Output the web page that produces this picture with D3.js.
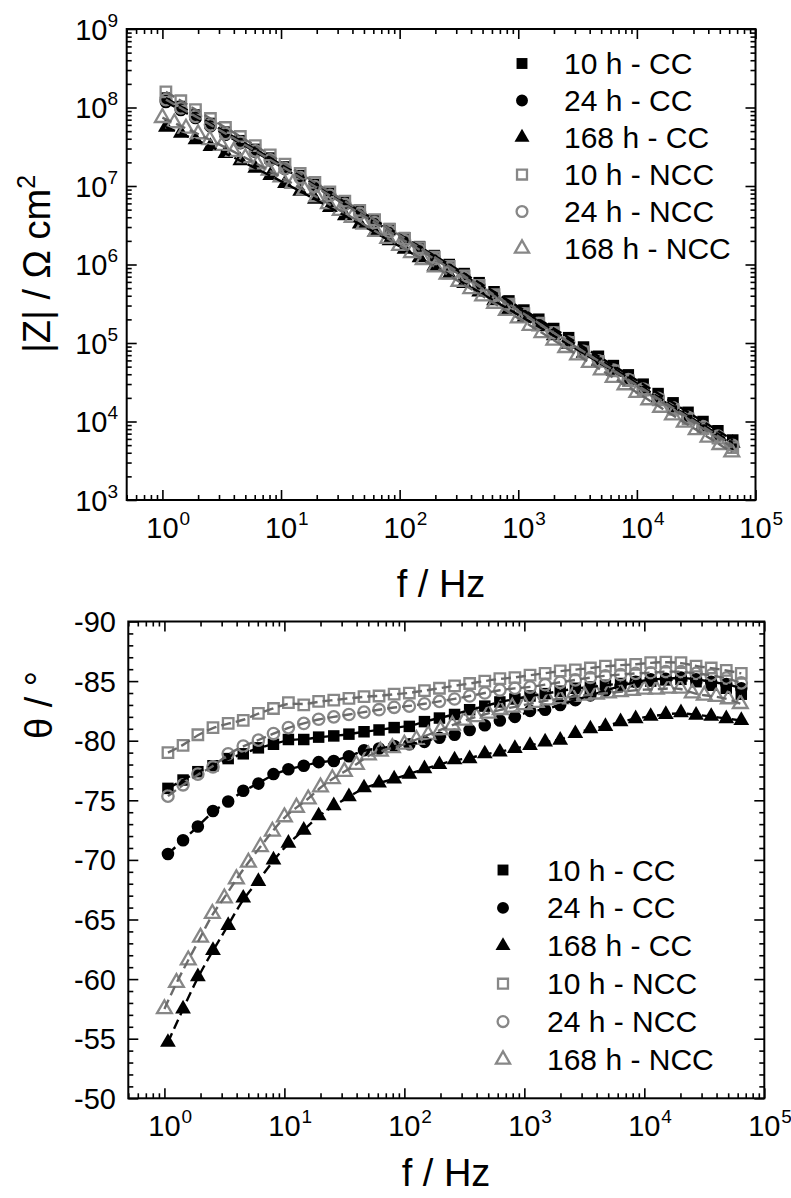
<!DOCTYPE html>
<html><head><meta charset="utf-8">
<script src="https://cdn.jsdelivr.net/npm/d3@7"></script>
<style>
body{margin:0;background:#fff}
svg{display:block}
text{font-family:"Liberation Sans",Arial,Helvetica,sans-serif;fill:#000}
</style>
</head><body>
<svg id="c" width="791" height="1198"></svg>
<script>
// ---------------- data ----------------
const seriesNames = ["10 h - CC","24 h - CC","168 h - CC","10 h - NCC","24 h - NCC","168 h - NCC"];

const freqCC = [1.07,1.43,1.90,2.54,3.40,4.54,6.07,8.11,10.8,14.5,19.3,25.8,34.5,46.1,61.5,82.2,110,147,196,262,350,468,625,834,1115,1490,1990,2660,3550,4740,6340,8470,11300,15100,20200,27000,36100,48200,64300];
const freqNCC168 = [1.00,1.26,1.58,2.00,2.51,3.16,3.98,5.01,6.31,7.94,10.0,12.6,15.8,20.0,25.1,31.6,39.8,50.1,63.1,79.4,100,126,158,200,251,316,398,501,631,794,1000,1259,1585,1995,2512,3162,3981,5012,6310,7943,10000,12589,15849,19953,25119,31623,39811,50119,63096];

const zMod10CC = [1.32e8,1.03e8,8.04e7,6.27e7,4.86e7,3.78e7,2.93e7,2.27e7,1.75e7,1.36e7,1.05e7,8.09e6,6.24e6,4.82e6,3.72e6,2.86e6,2.20e6,1.69e6,1.30e6,1.00e6,7.67e5,5.87e5,4.50e5,3.44e5,2.63e5,2.01e5,1.53e5,1.17e5,8.89e4,6.78e4,5.16e4,3.93e4,2.99e4,2.27e4,1.73e4,1.31e4,1.00e4,7.62e3,5.81e3];
const zMod24CC = [1.175e8,9.31e7,7.33e7,5.75e7,4.50e7,3.52e7,2.73e7,2.12e7,1.64e7,1.27e7,9.84e6,7.62e6,5.87e6,4.54e6,3.49e6,2.69e6,2.07e6,1.59e6,1.22e6,9.40e5,7.19e5,5.52e5,4.22e5,3.23e5,2.46e5,1.87e5,1.43e5,1.09e5,8.24e4,6.27e4,4.74e4,3.60e4,2.72e4,2.05e4,1.55e4,1.17e4,8.85e3,6.70e3,5.07e3];
const zMod168CC = [5.62e7,4.70e7,3.88e7,3.19e7,2.60e7,2.10e7,1.69e7,1.36e7,1.08e7,8.57e6,6.78e6,5.33e6,4.19e6,3.29e6,2.57e6,2.01e6,1.57e6,1.22e6,9.51e5,7.40e5,5.74e5,4.46e5,3.46e5,2.68e5,2.07e5,1.61e5,1.24e5,9.59e4,7.40e4,5.69e4,4.39e4,3.37e4,2.59e4,1.99e4,1.52e4,1.17e4,8.97e3,6.90e3,5.31e3];
const zMod10NCC = [1.585e8,1.22e8,9.42e7,7.24e7,5.56e7,4.27e7,3.26e7,2.49e7,1.90e7,1.45e7,1.11e7,8.43e6,6.41e6,4.90e6,3.72e6,2.83e6,2.15e6,1.64e6,1.24e6,9.46e5,7.16e5,5.43e5,4.12e5,3.13e5,2.36e5,1.79e5,1.35e5,1.02e5,7.73e4,5.82e4,4.41e4,3.32e4,2.51e4,1.89e4,1.43e4,1.08e4,8.13e3,6.15e3,4.65e3];
const zMod24NCC = [1.26e8,9.86e7,7.71e7,6.01e7,4.67e7,3.61e7,2.80e7,2.16e7,1.67e7,1.28e7,9.86e6,7.59e6,5.82e6,4.47e6,3.43e6,2.62e6,2.01e6,1.54e6,1.18e6,8.99e5,6.87e5,5.25e5,4.00e5,3.05e5,2.33e5,1.77e5,1.35e5,1.03e5,7.80e4,5.93e4,4.50e4,3.41e4,2.59e4,1.97e4,1.49e4,1.13e4,8.61e3,6.53e3,4.97e3];
const zMod168NCC = [7.41e7,6.35e7,5.43e7,4.60e7,3.88e7,3.27e7,2.74e7,2.29e7,1.90e7,1.58e7,1.30e7,1.07e7,8.85e6,7.26e6,5.94e6,4.85e6,3.97e6,3.24e6,2.63e6,2.14e6,1.74e6,1.41e6,1.15e6,9.29e5,7.52e5,6.08e5,4.91e5,3.96e5,3.19e5,2.58e5,2.07e5,1.67e5,1.35e5,1.08e5,8.71e4,7.02e4,5.64e4,4.52e4,3.63e4,2.92e4,2.34e4,1.88e4,1.51e4,1.21e4,9.73e3,7.83e3,6.30e3,5.06e3,4.07e3];

const phase10CC = [-76.0,-76.7,-77.4,-77.9,-78.5,-78.9,-79.4,-79.7,-80.1,-80.1,-80.3,-80.4,-80.55,-80.75,-80.9,-81.1,-81.2,-81.6,-81.9,-82.2,-82.6,-82.9,-83.25,-83.5,-83.75,-83.95,-84.15,-84.4,-84.5,-84.65,-84.8,-84.95,-85.0,-85.1,-85.15,-84.95,-84.65,-84.4,-83.9];
const phase24CC = [-70.5,-71.65,-72.8,-74.1,-74.9,-75.8,-76.4,-77.2,-77.6,-77.9,-78.2,-78.3,-78.7,-79.2,-79.35,-79.55,-79.7,-79.9,-80.25,-80.5,-80.9,-81.3,-81.7,-82.0,-82.5,-82.6,-83.0,-83.4,-83.8,-84.2,-84.6,-84.95,-85.15,-85.2,-85.3,-85.15,-84.95,-84.75,-84.4];
const phase168CC = [-54.7,-57.5,-60.2,-62.4,-64.5,-66.8,-68.2,-70.0,-71.4,-72.5,-73.7,-74.55,-75.3,-76.05,-76.45,-76.8,-77.2,-77.65,-78.0,-78.4,-78.5,-78.9,-79.05,-79.35,-79.6,-79.9,-80.05,-80.6,-81.0,-81.2,-81.6,-81.85,-82.05,-82.2,-82.35,-82.15,-82.05,-81.85,-81.7];
const phase10NCC = [-79.0,-79.6,-80.5,-81.1,-81.45,-81.7,-82.3,-82.7,-83.2,-83.0,-83.3,-83.4,-83.55,-83.7,-83.75,-83.9,-84.0,-84.2,-84.4,-84.6,-84.8,-85.0,-85.2,-85.3,-85.5,-85.65,-85.85,-85.95,-86.1,-86.25,-86.35,-86.4,-86.55,-86.6,-86.55,-86.25,-86.1,-85.9,-85.65];
const phase24NCC = [-75.35,-76.3,-77.2,-77.8,-78.9,-79.55,-80.05,-80.6,-81.1,-81.45,-81.8,-82.0,-82.2,-82.4,-82.6,-82.8,-82.9,-83.1,-83.3,-83.5,-83.75,-84.0,-84.25,-84.4,-84.5,-84.7,-84.9,-85.1,-85.3,-85.45,-85.55,-85.65,-85.7,-85.8,-85.8,-85.65,-85.5,-85.25,-84.85];
const phase168NCC = [-57.5,-59.7,-61.6,-63.5,-65.5,-66.8,-68.4,-69.8,-71.1,-72.4,-73.6,-74.4,-75.1,-76.1,-76.8,-77.4,-78.0,-78.8,-79.1,-79.4,-79.7,-80.1,-80.5,-80.9,-81.3,-81.7,-82.0,-82.3,-82.6,-82.8,-83.0,-83.2,-83.4,-83.5,-83.7,-83.8,-83.9,-84.0,-84.1,-84.2,-84.3,-84.3,-84.4,-84.4,-84.0,-83.8,-83.7,-83.5,-83.1];

const xTickExponents = [0,1,2,3,4,5];
const yTopTickExponents = [3,4,5,6,7,8,9];
const yBotTickLabels = [-90,-85,-80,-75,-70,-65,-60,-55,-50];

// ---------------- build ----------------
const GRAY = "#878787";
const shapes = [d3.symbolSquare, d3.symbolCircle, d3.symbolTriangle, d3.symbolSquare, d3.symbolCircle, d3.symbolTriangle];
const freqs = [freqCC, freqCC, freqCC, freqCC, freqCC, freqNCC168];
const mods = [zMod10CC, zMod24CC, zMod168CC, zMod10NCC, zMod24NCC, zMod168NCC];
const phases = [phase10CC, phase24CC, phase168CC, phase10NCC, phase24NCC, phase168NCC];
const series = seriesNames.map((name, i) => ({
  name, filled: i < 3, shape: shapes[i],
  pts: freqs[i].map((f, j) => ({f, z: mods[i][j], p: phases[i][j]}))
}));

function symSize(shape, filled) {
  if (shape === d3.symbolSquare) return filled ? 132 : 110;
  if (shape === d3.symbolCircle) return filled ? 124 : 102;
  return filled ? 108 : 95;
}
function styleSym(sel, s) {
  if (s.filled) sel.attr("fill", "#000").attr("stroke", "none");
  else sel.attr("fill", "none").attr("stroke", GRAY).attr("stroke-width", 2.3);
}

const svg = d3.select("#c");

function minorLog(lo, hi) {
  const out = [];
  for (let e = Math.floor(Math.log10(lo)); e < Math.ceil(Math.log10(hi)); e++) {
    for (let m = 2; m <= 9; m++) {
      const v = +(m * Math.pow(10, e)).toPrecision(6);
      if (v >= lo && v <= hi) out.push(v);
    }
  }
  return out;
}

function panel(cfg) {
  const {x, y, key, legendX, textX, legendY, legendStep} = cfg;
  const [x0, x1] = x.range();
  const [yb, yt] = y.range();
  const g = svg.append("g");

  const addAxis = (axisFn, pos, scale, vals, size) => {
    const a = g.append("g").attr("transform", pos)
      .call(axisFn(scale).tickValues(vals).tickSize(-size).tickSizeOuter(0).tickFormat(""));
    a.select(".domain").remove();
    a.selectAll("line").attr("stroke", "#000").attr("stroke-width", 1.6);
  };
  addAxis(d3.axisBottom, `translate(0,${yb})`, x, cfg.xMajor, 10);
  addAxis(d3.axisBottom, `translate(0,${yb})`, x, cfg.xMinor, 5);
  addAxis(d3.axisTop, `translate(0,${yt})`, x, cfg.xMajor, 10);
  addAxis(d3.axisTop, `translate(0,${yt})`, x, cfg.xMinor, 5);
  addAxis(d3.axisLeft, `translate(${x0},0)`, y, cfg.yMajor, 10);
  addAxis(d3.axisLeft, `translate(${x0},0)`, y, cfg.yMinor, 5);
  addAxis(d3.axisRight, `translate(${x1},0)`, y, cfg.yMajor, 10);
  addAxis(d3.axisRight, `translate(${x1},0)`, y, cfg.yMinor, 5);

  g.append("rect").attr("x", x0).attr("y", yt).attr("width", x1 - x0).attr("height", yb - yt)
    .attr("fill", "none").attr("stroke", "#000").attr("stroke-width", 2);

  xTickExponents.forEach(e => {
    const xx = x(Math.pow(10, e));
    g.append("text").attr("x", xx).attr("y", yb + 38).attr("text-anchor", "middle")
      .attr("font-size", 29).text("10");
    g.append("text").attr("x", xx + 17).attr("y", yb + 25).attr("text-anchor", "start")
      .attr("font-size", 19).text(String(e));
  });

  const mg = g.append("g");
  series.forEach(s => {
    mg.append("g").selectAll("path").data(s.pts).join("path")
      .attr("d", d3.symbol().type(s.shape).size(symSize(s.shape, s.filled)))
      .attr("transform", d => `translate(${x(d.f)},${y(d[key])})`)
      .call(sel => styleSym(sel, s));
  });
  const line = d3.line().x(d => x(d.f)).y(d => y(d[key])).curve(d3.curveBasis);
  series.forEach(s => {
    g.append("path").datum(s.pts).attr("d", line).attr("fill", "none")
      .attr("stroke", s.filled ? "#000" : "#6a6a6a").attr("stroke-width", 2.4)
      .attr("stroke-dasharray", "10,5");
  });

  series.forEach((s, i) => {
    const ly = legendY + i * legendStep;
    g.append("path").attr("d", d3.symbol().type(s.shape).size(symSize(s.shape, s.filled) * 0.9))
      .attr("transform", `translate(${legendX},${ly})`).call(sel => styleSym(sel, s));
    g.append("text").attr("x", textX).attr("y", ly + 10.5).attr("font-size", 30).text(s.name);
  });
  return g;
}

const xTop = d3.scaleLog().domain([0.5, 1e5]).range([126.7, 755.5]);
const yTop = d3.scaleLog().domain([1e3, 1e9]).range([500, 29]);
const gTop = panel({
  x: xTop, y: yTop, key: "z",
  xMajor: xTickExponents.map(e => Math.pow(10, e)), xMinor: minorLog(0.5, 1e5),
  yMajor: yTopTickExponents.map(e => Math.pow(10, e)), yMinor: minorLog(1e3, 1e9),
  legendX: 522, textX: 564, legendY: 63.5, legendStep: 37
});
yTopTickExponents.forEach(e => {
  const yy = yTop(Math.pow(10, e));
  gTop.append("text").attr("x", 107.5).attr("y", yy + 10.5).attr("text-anchor", "end").attr("font-size", 29).text("10");
  gTop.append("text").attr("x", 118).attr("y", yy - 2.5).attr("text-anchor", "end").attr("font-size", 19).text(String(e));
});
gTop.append("text").attr("x", 441).attr("y", 597).attr("text-anchor", "middle").attr("font-size", 38).text("f / Hz");
gTop.append("text").attr("transform", "translate(50,264) rotate(-90)").attr("text-anchor", "middle")
  .attr("font-size", 38)
  .call(t => { t.append("tspan").text("|Z| / \u03A9 cm"); t.append("tspan").attr("font-size", 25).attr("dy", -15).text("2"); });

const xBot = d3.scaleLog().domain([0.5, 1e5]).range([128.3, 764.3]);
const yBot = d3.scaleLinear().domain([-50, -90]).range([1098.3, 621.5]);
const gBot = panel({
  x: xBot, y: yBot, key: "p",
  xMajor: xTickExponents.map(e => Math.pow(10, e)), xMinor: minorLog(0.5, 1e5),
  yMajor: yBotTickLabels, yMinor: d3.range(-89, -50).filter(v => v % 5 !== 0),
  legendX: 503, textX: 547, legendY: 870, legendStep: 37.9
});
yBotTickLabels.forEach(v => {
  gBot.append("text").attr("x", 116).attr("y", yBot(v) + 10.5).attr("text-anchor", "end").attr("font-size", 29).text(String(v));
});
gBot.append("text").attr("x", 446).attr("y", 1186).attr("text-anchor", "middle").attr("font-size", 38).text("f / Hz");
gBot.append("text").attr("transform", "translate(52,705) rotate(-90)").attr("text-anchor", "middle")
  .attr("font-size", 38).text("\u03B8 / \u00B0");
</script>
</body></html>
